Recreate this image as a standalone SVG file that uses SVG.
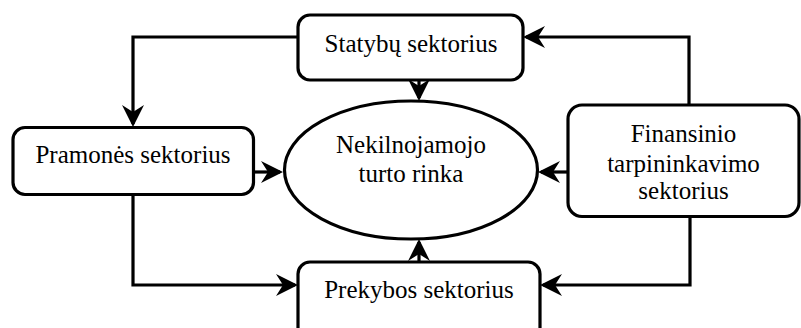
<svg xmlns="http://www.w3.org/2000/svg" width="801" height="328" viewBox="0 0 801 328">
  <style>
    .box { fill: #ffffff; stroke: #000000; stroke-width: 3.2; }
    .lbl { font-family: "Liberation Serif", "Times New Roman", serif; font-size: 25px; fill: #000000; text-anchor: middle; }
    .con { fill: none; stroke: #000000; stroke-width: 3.2; stroke-linejoin: miter; marker-end: url(#arr); }
  </style>
  <defs>
    <marker id="arr" markerUnits="userSpaceOnUse" markerWidth="26" markerHeight="26" refX="19" refY="11" orient="auto" overflow="visible">
      <path d="M0,0 L22,11 L0,22 L7,11 Z" fill="#000000"/>
    </marker>
  </defs>
  <rect width="801" height="328" fill="#ffffff"/>

  <g id="connectors">
    <path class="con" d="M298,37 H133 V124"/>
    <path class="con" d="M419,80 V98"/>
    <path class="con" d="M689,105 V37 H526"/>
    <path class="con" d="M253,172 H280"/>
    <path class="con" d="M568,172 H541"/>
    <path class="con" d="M133,194 V285 H295"/>
    <path class="con" d="M690,217 V285 H543"/>
    <path class="con" d="M419,262 V242"/>
  </g>

  <g id="statybu">
    <rect class="box" x="298" y="15" width="225" height="65" rx="12" ry="12"/>
    <text class="lbl" x="411" y="52">Statybų sektorius</text>
  </g>

  <g id="pramones">
    <rect class="box" x="13" y="127.5" width="240.5" height="67" rx="12" ry="12"/>
    <text class="lbl" x="133" y="163">Pramonės sektorius</text>
  </g>

  <g id="rinka">
    <ellipse class="box" cx="411" cy="170" rx="126.5" ry="69"/>
    <text class="lbl" x="411" y="153">Nekilnojamojo</text>
    <text class="lbl" x="411" y="182">turto rinka</text>
  </g>

  <g id="finansinio">
    <rect class="box" x="568" y="105" width="231" height="111.5" rx="14" ry="14"/>
    <text class="lbl" x="683.5" y="142">Finansinio</text>
    <text class="lbl" x="683.5" y="172">tarpininkavimo</text>
    <text class="lbl" x="683.5" y="199">sektorius</text>
  </g>

  <g id="prekybos">
    <rect class="box" x="298" y="262" width="242" height="80" rx="12" ry="12"/>
    <text class="lbl" x="419" y="298">Prekybos sektorius</text>
  </g>
</svg>
